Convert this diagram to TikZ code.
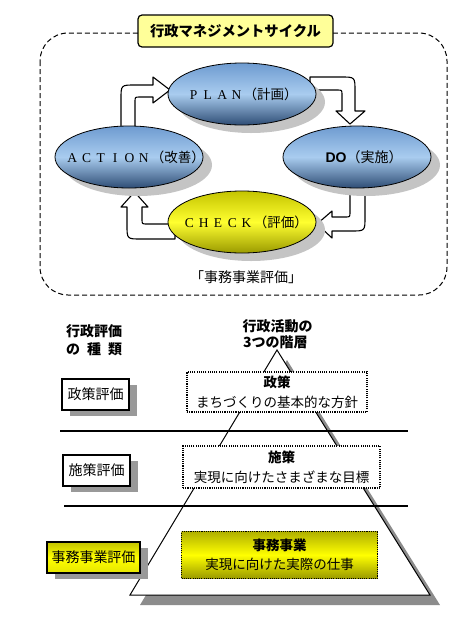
\documentclass[tikz,border=0pt]{standalone}
\usepackage{fontspec}
\setmainfont{Liberation Serif}
\newfontfamily\jp{Noto Sans CJK JP}
\newfontfamily\lsans{Liberation Sans}
\usetikzlibrary{shapes.geometric,shadows}
\definecolor{ellTop}{HTML}{6E9BD0}
\definecolor{ellMid}{HTML}{A9CCEF}
\definecolor{ellBot}{HTML}{2E4D75}
\definecolor{yelTop}{HTML}{C4C400}
\definecolor{yelMid}{HTML}{FFFF30}
\definecolor{yelBot}{HTML}{9A9A00}
\definecolor{titleYellow}{HTML}{FFFF99}
\definecolor{shadowGray}{HTML}{C4C4C4}
\definecolor{pyrShadow}{HTML}{8C8C8C}
\newcommand\fwc[1]{\makebox[14.3pt]{#1}}
\begin{document}
\begin{tikzpicture}[x=1pt,y=-1pt,
  ell/.style={ellipse, draw=black, line width=0.8pt, minimum width=148pt, minimum height=62pt, inner sep=0pt,
    drop shadow={shadow xshift=9pt, shadow yshift=-8pt, fill=shadowGray, opacity=1}},
  blueell/.style={ell, top color=ellTop, bottom color=ellBot, middle color=ellMid},
  yellowell/.style={ell, top color=yelTop, bottom color=yelBot, middle color=yelMid},
  elltext/.style={inner sep=0pt, font=\fontsize{13.5}{15}\selectfont},
  blockarrow/.style={draw=black, fill=white, line width=1.1pt, line join=round},
  titlebox/.style={rectangle, draw=black, fill=titleYellow, rounded corners=4pt, line width=1.2pt,
    minimum width=195pt, minimum height=32pt, inner sep=0pt, font=\jp\bfseries\fontsize{14.3}{16}\selectfont},
  jptext/.style={inner sep=0pt, font=\jp\fontsize{14}{16}\selectfont},
  jpbold/.style={inner sep=0pt, font=\jp\bfseries\fontsize{14}{16}\selectfont},
  pbox/.style={rectangle, draw=black, dash pattern=on 1.1pt off 1.1pt, line width=1.1pt, fill=white,
    inner sep=0pt, align=center, font=\jp\fontsize{13.5}{19.5}\selectfont},
  lbox/.style={rectangle, draw=black, line width=1.6pt, fill=white, minimum height=31pt, inner sep=0pt,
    font=\jp\fontsize{14}{16}\selectfont,
    drop shadow={shadow xshift=8pt, shadow yshift=-6pt, fill=black!40, opacity=1}},
  hline/.style={draw=black, line width=1.4pt}
]
\useasboundingbox (0,0) rectangle (458,619);
\fill[white] (0,0) rectangle (458,619);

% ---------- management cycle ----------
\draw[dash pattern=on 5pt off 3pt, line width=1pt, rounded corners=28pt] (40,33) rectangle (447,295);
\node[titlebox] (title) at (235.5,31) {行政マネジメントサイクル};

% block arrows
\draw[blockarrow] (121,127) -- (121,99) .. controls (121,85) .. (135,85) -- (153,85) -- (153,77)
  -- (170,90) -- (153,103) -- (153,97) -- (140,97) .. controls (135,97) .. (135,102) -- (135,127) -- cycle;
\draw[blockarrow] (310,77) -- (341,77) .. controls (355,77) .. (355,91) -- (355,111) -- (365,111)
  -- (350,124) -- (336,111) -- (342,111) -- (342,95) .. controls (342,90) .. (337,90) -- (310,90) -- cycle;
\draw[blockarrow] (350,185) -- (350,212) .. controls (350,217) .. (345,217) -- (332,217) -- (332,211)
  -- (317,224) -- (332,238) -- (332,231) -- (351,231) .. controls (365,231) .. (365,217) -- (365,185) -- cycle;
\draw[blockarrow] (175,224) -- (147,224) .. controls (142,224) .. (142,219) -- (142,207) -- (148,207)
  -- (134.5,192) -- (121,207) -- (127,207) -- (127,225) .. controls (127,239) .. (141,239) -- (175,239) -- cycle;

% ellipses
\node[blueell] (plan) at (242,94) {};
\node[blueell] (do) at (357,157) {};
\node[blueell] (action) at (129,157) {};
\node[yellowell] (check) at (242,222) {};

\node[elltext] (plantext) at (plan) {\fwc{P}\fwc{L}\fwc{A}\fwc{N}{\jp\fontsize{13.5}{15}\selectfont（計画）}};
\node[elltext] (dotext) at ([xshift=7pt]do.center) {{\lsans\bfseries\fontsize{14}{15}\selectfont DO}{\jp\fontsize{14}{15}\selectfont（実施）}};
\node[elltext] (actiontext) at ([xshift=6pt]action.center) {\fwc{A}\fwc{C}\fwc{T}\fwc{I}\fwc{O}\fwc{N}{\jp\fontsize{13.5}{15}\selectfont（改善）}};
\node[elltext] (checktext) at ([xshift=3pt]check.center) {\fwc{C}\fwc{H}\fwc{E}\fwc{C}\fwc{K}{\jp\fontsize{13.5}{15}\selectfont（評価）}};

\node[jptext] (cyclecaption) at (246,277) {「事務事業評価」};

% ---------- evaluation layers ----------
\node[jpbold] (kind1) at (94,331) {行政評価};
\node[jpbold] (kind2) at (94,349) {の\hspace{7pt}種\hspace{7pt}類};
\node[jpbold] (layer1) at (277.5,326) {行政活動の};
\node[jpbold, anchor=west] (layer2) at (243,342) {3つの階層};

% pyramid
\coordinate (apex) at (277,350);
\coordinate (bl) at (130,595);
\coordinate (br) at (430,595);
\fill[pyrShadow] ([shift={(10,10)}]apex) -- ([shift={(10,10)}]bl) -- ([shift={(10,10)}]br) -- cycle;
\draw[fill=white, line width=1pt] (apex) -- (bl) -- (br) -- cycle;

\coordinate (l1a) at (60,431); \coordinate (l1b) at (408,431);
\coordinate (l2a) at (64,506); \coordinate (l2b) at (408,506);
\draw[hline] (l1a) -- (l1b);
\draw[hline] (l2a) -- (l2b);

\node[pbox, minimum width=180pt, minimum height=40pt] (seisaku) at (277,392)
  {\textbf{政策}\\まちづくりの基本的な方針};
\node[pbox, minimum width=197pt, minimum height=42pt] (shisaku) at (281.5,467)
  {\textbf{施策}\\実現に向けたさまざまな目標};
\node[pbox, minimum width=196pt, minimum height=47pt, top color=yelTop!90!black, bottom color=yelBot, middle color=yellow] (jimu) at (279.5,555)
  {\textbf{事務事業}\\実現に向けた実際の仕事};

% evaluation type boxes
\node[lbox, minimum width=67pt] (eval1) at (95.5,394.5) {政策評価};
\node[lbox, minimum width=67pt] (eval2) at (96.5,470.5) {施策評価};
\node[lbox, minimum width=93pt, top color=yelTop, bottom color=yellow!90!black, middle color=yellow] (eval3) at (93.5,557.5) {事務事業評価};
\end{tikzpicture}
\end{document}
